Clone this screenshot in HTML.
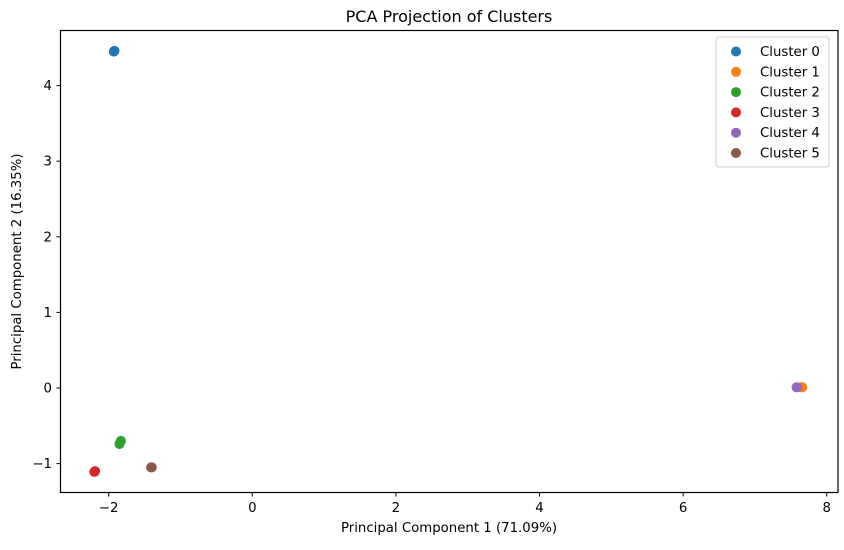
<!DOCTYPE html>
<html><head><meta charset="utf-8"><style>
body{margin:0;background:#fff;}
svg{font-family:"DejaVu Sans","Liberation Sans",sans-serif;}
</style></head><body>
<svg id="chart" width="844" height="545">
<rect x="0" y="0" width="844" height="545" fill="#fff"/>
<text x="449" y="22" font-size="16" text-anchor="middle">PCA Projection of Clusters</text>
<g id="marks"></g>
<g id="axes"></g>
<rect x="60.5" y="30.5" width="777.5" height="462" fill="none" stroke="#000" stroke-width="1.2"/>
<text x="449" y="532" font-size="13.3" text-anchor="middle">Principal Component 1 (71.09%)</text>
<text transform="translate(21,261.5) rotate(-90)" font-size="13.3" text-anchor="middle">Principal Component 2 (16.35%)</text>
<g id="legend"></g>
</svg>
<script>
const clusterNames = ["Cluster 0","Cluster 1","Cluster 2","Cluster 3","Cluster 4","Cluster 5"];
const colors = ["#1f77b4","#ff7f0e","#2ca02c","#d62728","#9467bd","#8c564b"];
const pointsX = [[-1.93,-1.92],[7.66,7.65],[-1.83,-1.85],[-2.2,-2.19],[7.59,7.58],[-1.41,-1.4]];
const pointsY = [[4.45,4.46],[0.01,0.01],[-0.70,-0.74],[-1.11,-1.10],[0.01,0.01],[-1.05,-1.05]];
const xTicks = [-2,0,2,4,6,8];
const yTicks = [-1,0,1,2,3,4];
const NS = "http://www.w3.org/2000/svg";
function sx(v){return 252.3 + v*71.8;}
function sy(v){return 388 - v*75.6;}
const marks = document.getElementById('marks');
const axes = document.getElementById('axes');
const legend = document.getElementById('legend');
pointsX.forEach((xs,i)=>{
  xs.forEach((x,j)=>{
    const c=document.createElementNS(NS,'circle');
    c.setAttribute('cx',sx(x));c.setAttribute('cy',sy(pointsY[i][j]));
    c.setAttribute('r',5);c.setAttribute('fill',colors[i]);
    
    
    marks.appendChild(c);
  });
});
xTicks.forEach(t=>{
  const x=sx(t);
  const l=document.createElementNS(NS,'line');
  l.setAttribute('x1',x);l.setAttribute('x2',x);l.setAttribute('y1',492.5);l.setAttribute('y2',496.5);l.setAttribute('stroke','#000');
  
  
  axes.appendChild(l);
  const tx=document.createElementNS(NS,'text');
  tx.setAttribute('x',x);tx.setAttribute('y',512);tx.setAttribute('font-size',13.3);tx.setAttribute('text-anchor','middle');
  tx.textContent = t<0 ? '\u2212'+(-t) : String(t);
  
  
  axes.appendChild(tx);
});
yTicks.forEach(t=>{
  const y=sy(t);
  const l=document.createElementNS(NS,'line');
  l.setAttribute('x1',56.5);l.setAttribute('x2',60.5);l.setAttribute('y1',y);l.setAttribute('y2',y);l.setAttribute('stroke','#000');
  
  
  axes.appendChild(l);
  const tx=document.createElementNS(NS,'text');
  tx.setAttribute('x',52);tx.setAttribute('y',y+4.5);tx.setAttribute('font-size',13.3);tx.setAttribute('text-anchor','end');
  tx.textContent = t<0 ? '\u2212'+(-t) : String(t);
  
  
  axes.appendChild(tx);
});
const box=document.createElementNS(NS,'rect');
box.setAttribute('x',716);box.setAttribute('y',37);box.setAttribute('width',113);box.setAttribute('height',130);
box.setAttribute('rx',3);box.setAttribute('fill','#fff');box.setAttribute('fill-opacity',0.8);box.setAttribute('stroke','#ccc');


legend.appendChild(box);
clusterNames.forEach((n,i)=>{
  const y=51.5+i*20.3;
  const c=document.createElementNS(NS,'circle');
  c.setAttribute('cx',736);c.setAttribute('cy',y);c.setAttribute('r',5);c.setAttribute('fill',colors[i]);
  
  
  legend.appendChild(c);
  const t=document.createElementNS(NS,'text');
  t.setAttribute('x',760);t.setAttribute('y',y+4.5);t.setAttribute('font-size',13.3);t.textContent=n;
  
  
  legend.appendChild(t);
});
</script>
</body></html>
